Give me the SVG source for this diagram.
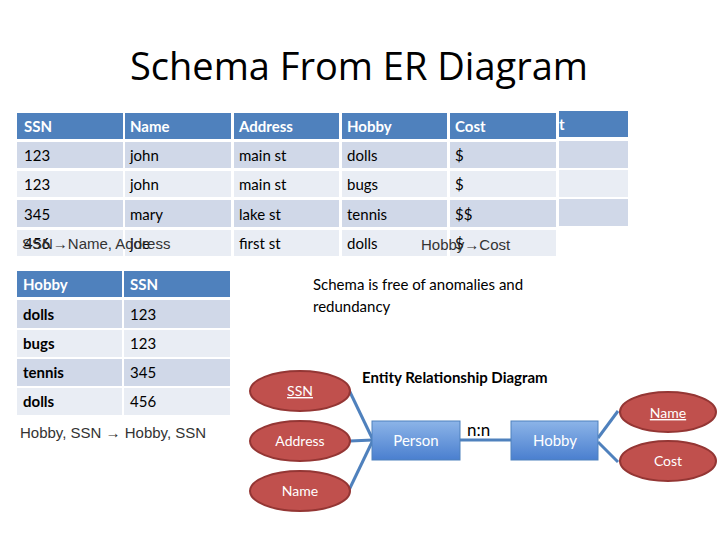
<svg xmlns="http://www.w3.org/2000/svg" width="720" height="540" viewBox="0 0 720 540">
<style>
text{font-family:Lato,"Open Sans",sans-serif}
.h{fill:#4f81bd}.o{fill:#d0d8e8}.e{fill:#e9edf4}
.ht{fill:#fff;font-size:15px}.ct{fill:#000;font-size:15px}
.bt{font-weight:bold}
.ar{font-family:"Liberation Sans",Arial,sans-serif;font-size:15px;fill:#333}
.ell{fill:#c0504d;stroke:#943634;stroke-width:2}
.et{fill:#fff;font-size:14px;text-anchor:middle}
.ent{fill:url(#g);stroke:#4f81bd;stroke-width:1}
.ln{stroke:#4f81bd;stroke-width:3;fill:none}
</style>
<defs><linearGradient id="g" x1="0" y1="0" x2="0" y2="1"><stop offset="0" stop-color="#8cb4e8"/><stop offset="1" stop-color="#4a7fcf"/></linearGradient></defs>
<rect width="720" height="540" fill="#fff"/>
<text x="359" y="80" text-anchor="middle" style="font-family:'Open Sans',Lato,sans-serif;font-size:38px" fill="#000">Schema From ER Diagram</text>
<g id="table1">
<rect class="h" x="559" y="111" width="69" height="26"/>
<rect class="o" x="559" y="141" width="69" height="27"/>
<rect class="e" x="559" y="170" width="69" height="27"/>
<rect class="o" x="559" y="199" width="69" height="27"/>
<g class="h"><rect x="17" y="113" width="106" height="26"/><rect x="125" y="113" width="106" height="26"/><rect x="234" y="113" width="105" height="26"/><rect x="342" y="113" width="105" height="26"/><rect x="450" y="113" width="106" height="26"/></g>
<g class="o"><rect x="17" y="142" width="106" height="26"/><rect x="125" y="142" width="106" height="26"/><rect x="234" y="142" width="105" height="26"/><rect x="342" y="142" width="105" height="26"/><rect x="450" y="142" width="106" height="26"/></g>
<g class="e"><rect x="17" y="171" width="106" height="26"/><rect x="125" y="171" width="106" height="26"/><rect x="234" y="171" width="105" height="26"/><rect x="342" y="171" width="105" height="26"/><rect x="450" y="171" width="106" height="26"/></g>
<g class="o"><rect x="17" y="200" width="106" height="27"/><rect x="125" y="200" width="106" height="27"/><rect x="234" y="200" width="105" height="27"/><rect x="342" y="200" width="105" height="27"/><rect x="450" y="200" width="106" height="27"/></g>
<g class="e"><rect x="17" y="230" width="106" height="26"/><rect x="125" y="230" width="106" height="26"/><rect x="234" y="230" width="105" height="26"/><rect x="342" y="230" width="105" height="26"/><rect x="450" y="230" width="106" height="26"/></g>
<text class="ht bt" x="559" y="130">t</text>
<g class="ht bt"><text x="24" y="132">SSN</text><text x="130" y="132">Name</text><text x="239" y="132">Address</text><text x="347" y="132">Hobby</text><text x="455" y="132">Cost</text></g>
<g class="ct">
<text x="24" y="161">123</text><text x="130" y="161">john</text><text x="239" y="161">main st</text><text x="347" y="161">dolls</text><text x="455" y="161">$</text>
<text x="24" y="190">123</text><text x="130" y="190">john</text><text x="239" y="190">main st</text><text x="347" y="190">bugs</text><text x="455" y="190">$</text>
<text x="24" y="220">345</text><text x="130" y="220">mary</text><text x="239" y="220">lake st</text><text x="347" y="220">tennis</text><text x="455" y="220">$$</text>
<text x="24" y="249">456</text><text x="130" y="249">joe</text><text x="239" y="249">first st</text><text x="347" y="249">dolls</text><text x="455" y="249">$</text>
</g>
</g>
<text class="ar" x="22" y="249">SSN→Name, Address</text>
<text class="ar" x="421" y="250">Hobby→Cost</text>
<g id="table2">
<rect class="h" x="17" y="271" width="105" height="26"/><rect class="h" x="124" y="271" width="106" height="26"/>
<g class="o"><rect x="17" y="300" width="105" height="28"/><rect x="124" y="300" width="106" height="28"/><rect x="17" y="359" width="105" height="27"/><rect x="124" y="359" width="106" height="27"/></g>
<g class="e"><rect x="17" y="330" width="105" height="27"/><rect x="124" y="330" width="106" height="27"/><rect x="17" y="388" width="105" height="27"/><rect x="124" y="388" width="106" height="27"/></g>
<g class="ht bt"><text x="23" y="290">Hobby</text><text x="130" y="290">SSN</text></g>
<g class="ct"><text class="bt" x="23" y="320">dolls</text><text x="130" y="320">123</text><text class="bt" x="23" y="349">bugs</text><text x="130" y="349">123</text><text class="bt" x="23" y="378">tennis</text><text x="130" y="378">345</text><text class="bt" x="23" y="407">dolls</text><text x="130" y="407">456</text></g>
</g>
<text class="ar" x="20" y="438">Hobby, SSN → Hobby, SSN</text>
<text x="313" y="290" style="font-size:15px">Schema is free of anomalies and</text>
<text x="313" y="312" style="font-size:15px">redundancy</text>
<text x="362" y="383" style="font-size:15px;font-weight:bold">Entity Relationship Diagram</text>
<g id="connectors">
<line class="ln" x1="349" y1="390" x2="373" y2="440"/>
<line class="ln" x1="350" y1="441" x2="373" y2="440"/>
<line class="ln" x1="349" y1="490" x2="373" y2="440"/>
<line class="ln" x1="460" y1="440" x2="511" y2="440"/>
<line class="ln" x1="598" y1="438" x2="618" y2="411"/>
<line class="ln" x1="598" y1="442" x2="618" y2="462"/>
</g>
<text x="467" y="436" style="font-size:17px">n:n</text>
<g id="ssn"><ellipse class="ell" cx="300" cy="391" rx="50" ry="20"/><text class="et" x="300" y="396" text-decoration="underline">SSN</text></g>
<g id="address"><ellipse class="ell" cx="300" cy="441" rx="50" ry="20"/><text class="et" x="300" y="446">Address</text></g>
<g id="name1"><ellipse class="ell" cx="300" cy="491" rx="50" ry="20"/><text class="et" x="300" y="496">Name</text></g>
<g id="person"><rect class="ent" x="372" y="421" width="88" height="39"/><text class="et" x="416" y="446" style="font-size:15px">Person</text></g>
<g id="hobby"><rect class="ent" x="511" y="421" width="87" height="39"/><text class="et" x="555" y="446" style="font-size:15px">Hobby</text></g>
<g id="name2"><ellipse class="ell" cx="668" cy="412" rx="48" ry="20"/><text class="et" x="668" y="418" text-decoration="underline">Name</text></g>
<g id="cost"><ellipse class="ell" cx="668" cy="461" rx="48" ry="20"/><text class="et" x="668" y="466">Cost</text></g>
</svg>
